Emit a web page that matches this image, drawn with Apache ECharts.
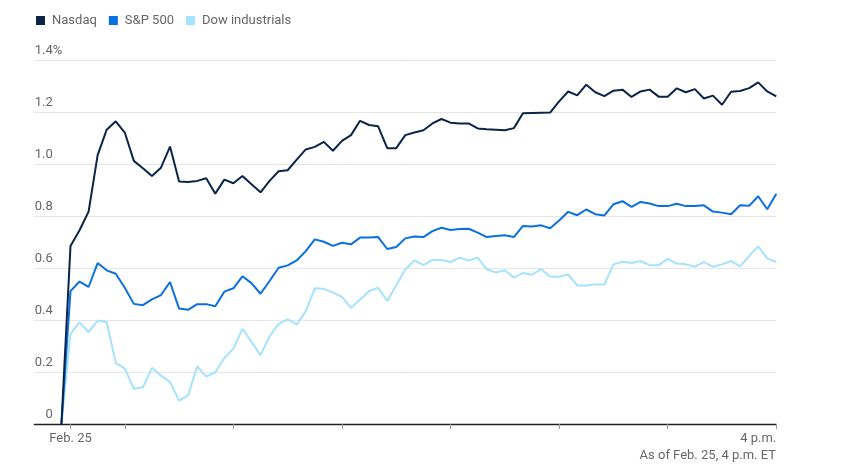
<!DOCTYPE html>
<html>
<head>
<meta charset="utf-8">
<script src="https://cdn.jsdelivr.net/npm/echarts@6/dist/echarts.min.js"></script>
<style>html,body{margin:0;padding:0;background:#fff}#c{width:842px;height:467px}</style>
</head>
<body>
<div id="c"></div>
<script>
const times = ["9:25","9:30","9:35","9:40","9:45","9:50","9:55","10:00","10:05","10:10","10:15","10:20","10:25","10:30","10:35","10:40","10:45","10:50","10:55","11:00",
"11:05","11:10","11:15","11:20","11:25","11:30","11:35","11:40","11:45","11:50","11:55","12:00","12:05","12:10","12:15","12:20","12:25","12:30","12:35","12:40",
"12:45","12:50","12:55","13:00","13:05","13:10","13:15","13:20","13:25","13:30","13:35","13:40","13:45","13:50","13:55","14:00","14:05","14:10","14:15","14:20",
"14:25","14:30","14:35","14:40","14:45","14:50","14:55","15:00","15:05","15:10","15:15","15:20","15:25","15:30","15:35","15:40","15:45","15:50","15:55","16:00"];

const nasdaq = [0,0.685,0.745,0.817,1.034,1.132,1.164,1.121,1.012,0.984,0.954,0.986,1.067,0.933,0.931,0.935,0.945,0.886,0.940,0.926,
0.954,0.922,0.891,0.935,0.972,0.976,1.017,1.056,1.066,1.085,1.051,1.089,1.111,1.166,1.150,1.145,1.061,1.061,1.111,1.121,
1.130,1.156,1.173,1.159,1.156,1.156,1.137,1.134,1.132,1.130,1.138,1.195,1.196,1.197,1.198,1.241,1.279,1.264,1.305,1.276,
1.261,1.282,1.286,1.258,1.279,1.286,1.259,1.259,1.291,1.276,1.288,1.252,1.263,1.228,1.278,1.281,1.292,1.314,1.279,1.260];

const sp500 = [0,0.511,0.548,0.527,0.619,0.591,0.578,0.524,0.462,0.457,0.479,0.496,0.546,0.444,0.439,0.461,0.461,0.453,0.509,0.522,
0.568,0.542,0.501,0.550,0.601,0.610,0.629,0.665,0.710,0.701,0.685,0.697,0.691,0.717,0.717,0.719,0.673,0.681,0.714,0.721,
0.719,0.742,0.755,0.746,0.750,0.751,0.736,0.719,0.723,0.726,0.719,0.762,0.760,0.764,0.753,0.783,0.816,0.803,0.825,0.807,
0.802,0.845,0.857,0.835,0.854,0.848,0.838,0.838,0.847,0.838,0.838,0.841,0.817,0.813,0.807,0.841,0.839,0.876,0.826,0.886];

const dow = [0,0.347,0.392,0.353,0.398,0.392,0.235,0.213,0.136,0.141,0.216,0.186,0.162,0.090,0.110,0.222,0.182,0.199,0.254,0.290,
0.366,0.316,0.265,0.337,0.385,0.402,0.383,0.434,0.522,0.520,0.505,0.489,0.447,0.479,0.511,0.524,0.473,0.534,0.595,0.629,
0.611,0.631,0.631,0.623,0.640,0.629,0.640,0.595,0.583,0.591,0.563,0.581,0.574,0.596,0.566,0.566,0.575,0.533,0.533,0.537,
0.537,0.614,0.624,0.619,0.627,0.611,0.611,0.635,0.617,0.614,0.605,0.623,0.605,0.614,0.627,0.606,0.646,0.683,0.637,0.623];

const seriesNames = ["Nasdaq", "S&P 500", "Dow industrials"];
const xTickTimes = ["9:30","10:00","11:00","12:00","13:00","14:00","15:00","16:00"];
const xLabelTimes = ["9:30","16:00"];
const xTickLabels = ["Feb. 25", "4 p.m."];
const yTickValues = [0, 0.2, 0.4, 0.6, 0.8, 1.0, 1.2, 1.4];
const yTickLabels = ["0", "0.2", "0.4", "0.6", "0.8", "1.0", "1.2", "1.4"];
const note = "As of Feb. 25, 4 p.m. ET";

function toMin(t){ const p = t.split(":"); return (+p[0])*60 + (+p[1]); }
function pairs(vals){ return vals.map((v,i)=>[toMin(times[i]), v]); }
function yLabel(v){ for (let i=0;i<yTickValues.length;i++){ if (Math.abs(yTickValues[i]-v)<1e-6) return yTickLabels[i]; } return ""; }
function xLabel(v){ for (let i=0;i<xLabelTimes.length;i++){ if (toMin(xLabelTimes[i])===v) return xTickLabels[i]; } return ""; }

const FONT = "Roboto";
const GRAY = "#666";
const colors = {"Nasdaq":"#0b2447", "S&P 500":"#0a6fe2", "Dow industrials":"#a5e2fc"};

const chart = echarts.init(document.getElementById('c'), null, {renderer:'canvas'});
const yBase = {type:'value', min:0, max:1.4, interval:0.2, position:'left',
  axisLine:{show:false}, axisTick:{show:false}};
chart.setOption({
  animation:false,
  textStyle:{fontFamily:FONT},
  title:{text:note, right:66, top:449, padding:0,
    textStyle:{fontSize:13, fontWeight:'normal', color:GRAY, fontFamily:FONT}},
  legend:{data:seriesNames, left:36, top:14, padding:0, icon:'rect', itemWidth:9, itemHeight:9, itemGap:12,
    textStyle:{fontSize:13, color:GRAY, fontFamily:FONT, padding:[0,0,0,2]}},
  grid:{left:34.3, right:65.7, top:60, bottom:43, containLabel:false, outerBoundsMode:'none'},
  xAxis:{type:'value', min:toMin("9:10"), max:toMin("16:00"),
    axisLine:{show:true, lineStyle:{color:'#222', width:1.3}},
    axisTick:{show:true, customValues:xTickTimes.map(toMin), length:5, lineStyle:{color:'#999'}},
    axisLabel:{customValues:xLabelTimes.map(toMin), formatter:xLabel, margin:8, fontSize:13, color:GRAY, fontFamily:FONT, alignMaxLabel:'right'},
    splitLine:{show:false}},
  yAxis:[
    Object.assign({}, yBase, {
      splitLine:{show:true, lineStyle:{color:'#e6e6e6', width:1}},
      axisLabel:{inside:true, align:'right', verticalAlign:'bottom', margin:18.5, padding:[0,0,3,0],
        formatter:yLabel, fontSize:13, color:GRAY, fontFamily:FONT}}),
    Object.assign({}, yBase, {
      splitLine:{show:false},
      axisLabel:{inside:true, align:'left', verticalAlign:'bottom', margin:18.5, padding:[0,0,3,0],
        formatter:(v)=> Math.abs(v-1.4)<1e-6 ? '%' : '', fontSize:13, color:GRAY, fontFamily:FONT}})
  ],
  series:[
    {name:seriesNames[2], type:'line', data:pairs(dow), showSymbol:false, symbol:'none', color:colors["Dow industrials"], lineStyle:{width:2}},
    {name:seriesNames[1], type:'line', data:pairs(sp500), showSymbol:false, symbol:'none', color:colors["S&P 500"], lineStyle:{width:2}},
    {name:seriesNames[0], type:'line', data:pairs(nasdaq), showSymbol:false, symbol:'none', color:colors["Nasdaq"], lineStyle:{width:2}}
  ]
});
</script>
</body>
</html>
